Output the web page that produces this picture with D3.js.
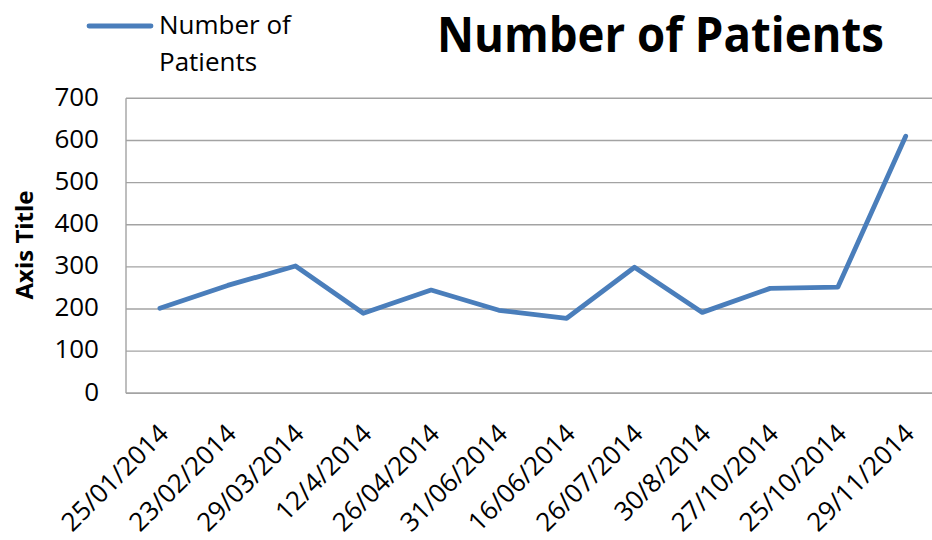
<!DOCTYPE html>
<html>
<head>
<meta charset="utf-8">
<script src="https://cdn.jsdelivr.net/npm/d3@7"></script>
<style>
  html, body { margin: 0; padding: 0; background: #fff; }
  svg { display: block; }
  text { font-family: "Open Sans", "Liberation Sans", sans-serif; fill: #000; }
</style>
</head>
<body>
<div id="chart"></div>
<script>
const categories = ["25/01/2014","23/02/2014","29/03/2014","12/4/2014","26/04/2014","31/06/2014",
                    "16/06/2014","26/07/2014","30/8/2014","27/10/2014","25/10/2014","29/11/2014"];
const patients = [202, 256, 302, 190, 245, 197, 178, 299, 192, 249, 252, 610];
const yTicks = [0, 100, 200, 300, 400, 500, 600, 700];
const seriesName = "Number of Patients";
const chartTitle = "Number of Patients";
const yAxisTitle = "Axis Title";

const W = 932, H = 540;
const svg = d3.select("#chart").append("svg").attr("width", W).attr("height", H);

const plotLeft = 126, plotTop = 98.3, plotBottom = 393.3, band = 67.8;
const x = d3.scaleBand().domain(categories).range([plotLeft, plotLeft + band * categories.length]).padding(0);
const y = d3.scaleLinear().domain([0, 700]).range([plotBottom, plotTop]);
const cx = d => x(d) + x.bandwidth() / 2;

// gridlines
svg.append("g").selectAll("line").data(yTicks).join("line")
  .attr("x1", plotLeft).attr("x2", x.range()[1])
  .attr("y1", d => y(d)).attr("y2", d => y(d))
  .attr("stroke", "#a3a3a3").attr("stroke-width", 1.4);

// left axis line
svg.append("line").attr("x1", plotLeft).attr("x2", plotLeft)
  .attr("y1", plotTop).attr("y2", plotBottom)
  .attr("stroke", "#a3a3a3").attr("stroke-width", 1.4);

// y axis labels
const yAxis = d3.axisLeft(y).tickValues(yTicks).tickSize(0).tickPadding(0);
const gy = svg.append("g").attr("transform", "translate(99,0)").call(yAxis);
gy.select(".domain").remove();
gy.selectAll("text").attr("font-size", 26).attr("font-family", "Open Sans")
  .attr("fill", "#000").attr("dy", "0.26em").attr("x", 0);

// x axis labels
const xAxis = d3.axisBottom(x).tickSize(0).tickFormat(d => d);
const gx = svg.append("g").attr("transform", `translate(0,${plotBottom})`).call(xAxis);
gx.select(".domain").attr("stroke", "#a3a3a3").attr("stroke-width", 1.4)
  .attr("d", `M${plotLeft},0H${x.range()[1]}`);
gx.selectAll(".tick text")
  .attr("font-size", 26).attr("font-family", "Open Sans").attr("fill", "#000")
  .attr("text-anchor", "end").attr("y", 0).attr("dy", 0)
  .attr("transform", "translate(10,42) rotate(-45)");

// line
const line = d3.line().x((d, i) => cx(categories[i])).y(d => y(d));
svg.append("path").datum(patients)
  .attr("d", line).attr("fill", "none")
  .attr("stroke", "#4a7ebb").attr("stroke-width", 4.8)
  .attr("stroke-linejoin", "round").attr("stroke-linecap", "round");

// legend
svg.append("line").attr("x1", 89).attr("x2", 151).attr("y1", 26).attr("y2", 26)
  .attr("stroke", "#4a7ebb").attr("stroke-width", 4.8).attr("stroke-linecap", "round");
const lt = svg.append("text").attr("x", 159).attr("y", 34).attr("font-size", 26);
const words = seriesName.split(" ");
lt.append("tspan").attr("x", 159).attr("y", 34).text(words.slice(0, 2).join(" "));
lt.append("tspan").attr("x", 159).attr("y", 70.5).text(words.slice(2).join(" "));

// title
svg.append("text").attr("x", 437).attr("y", 51.5)
  .attr("font-size", 48).attr("font-weight", "bold")
  .attr("textLength", 447).attr("lengthAdjust", "spacingAndGlyphs")
  .text(chartTitle);

// y axis title
svg.append("text").attr("transform", "translate(33,245) rotate(-90)")
  .attr("text-anchor", "middle").attr("font-size", 24).attr("font-weight", "bold")
  .text(yAxisTitle);
</script>
</body>
</html>
